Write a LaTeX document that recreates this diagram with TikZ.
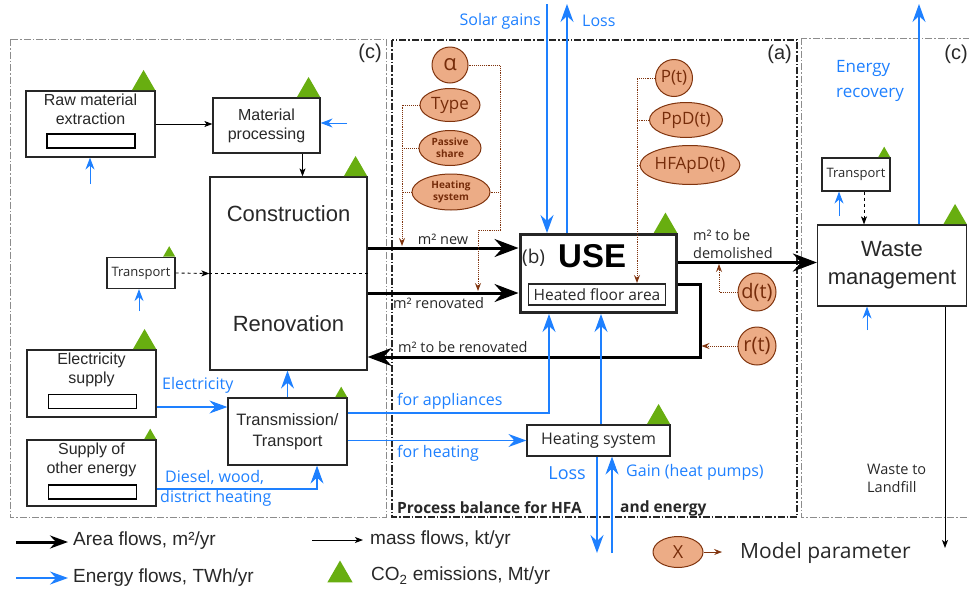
\documentclass[tikz,border=0pt]{standalone}
\usepackage{fontspec}
\setmainfont{Liberation Sans}
\newfontfamily\osans{Open Sans}
\usetikzlibrary{arrows.meta,shapes.geometric,positioning}

\definecolor{eblue}{RGB}{30,128,255}
\definecolor{cogreen}{RGB}{104,174,16}
\definecolor{pfill}{RGB}{236,172,134}
\definecolor{pline}{RGB}{128,52,14}
\definecolor{ptext}{RGB}{118,44,10}
\definecolor{txtgray}{RGB}{40,40,40}

\tikzset{
	box/.style={rectangle, draw=black!85, line width=1.2pt, fill=white, inner sep=2pt, text=txtgray, align=center},
	stockbar/.style={rectangle, draw=black, line width=1.6pt, minimum width=88pt, minimum height=14pt, inner sep=0pt},
	boxtxt/.style={align=center, font=\fontsize{16}{19}\selectfont, text=txtgray, inner sep=0pt},
	bigtxt/.style={font=\fontsize{22}{26}\selectfont, text=txtgray, inner sep=0pt, align=center},
	co2/.style={regular polygon, regular polygon sides=3, fill=cogreen, inner sep=0pt, minimum size=27pt},
	co2small/.style={co2, minimum size=14pt},
	param/.style={ellipse, draw=pline, fill=pfill, text=ptext, line width=1pt, inner sep=0pt, font=\osans\fontsize{17}{17}\selectfont},
	area/.style={line width=3pt, -{Stealth[length=24pt,width=18pt,inset=8pt]}},
	mass/.style={line width=0.9pt, -{Stealth[length=8pt,width=6pt,inset=2pt]}},
	energy/.style={draw=eblue, line width=1.2pt, -{Stealth[length=18pt,width=13pt,inset=6pt]}},
	ein/.style={draw=eblue, line width=1pt, -{Stealth[length=12pt,width=9pt,inset=4pt]}},
	pflow/.style={draw=pline, densely dotted, line width=0.9pt, -{Stealth[length=8pt,width=6pt,inset=3pt]}},
	flowlbl/.style={font=\osans\fontsize{14.5}{18}\selectfont, text=txtgray, inner sep=0pt, align=left},
	elbl/.style={font=\osans\fontsize{16}{24}\selectfont, text=eblue, inner sep=0pt, align=left},
	regionframe/.style={dash pattern=on 7pt off 2pt on 1.5pt off 2pt, line width=0.9pt}
}

\begin{document}
\begin{tikzpicture}[x=1pt, y=-1pt]
	\useasboundingbox (0,0) rectangle (969,592);

	\draw[regionframe, draw=black!45] (10,39) rectangle (386,517);
	\draw[regionframe, draw=black!45] (801,38) rectangle (975,517);
	\draw[regionframe, draw=black!85, line width=1.1pt] (392,40) rectangle (797,517);
	\node[font=\fontsize{20}{20}\selectfont, text=txtgray, anchor=north east, inner sep=0pt](regC1) at (382,44){(c)};
	\node[font=\fontsize{20}{20}\selectfont, text=txtgray, anchor=north east, inner sep=0pt](regA) at (792,45){(a)};
	\node[font=\fontsize{20}{20}\selectfont, text=txtgray, anchor=north east, inner sep=0pt](regC2) at (968,45){(c)};

	\node[box, minimum width=129pt, minimum height=66pt](raw) at (90.5,124){};
	\node[boxtxt, below=3pt of raw.north](rawTxt){Raw material\\extraction};
	\node[stockbar](rawStock) at (91,141){};
	\node[co2, anchor=corner 3](rawCO) at (raw.north east){};

	\node[box, minimum width=107pt, minimum height=55pt, font=\fontsize{16}{19}\selectfont](matproc) at (266.5,125.5){Material\\processing};
	\node[co2, anchor=corner 3](matprocCO) at (matproc.north east){};

	\node[box, minimum width=157pt, minimum height=193pt](constr) at (288.5,273.5){};
	\node[bigtxt](constrTxt) at (288.5,214){Construction};
	\node[bigtxt](renoTxt) at (288.5,324){Renovation};
	\node[co2, anchor=corner 3](constrCO) at (constr.north east){};

	\node[box, minimum width=68pt, minimum height=31pt, font=\osans\fontsize{13}{13}\selectfont](transL) at (141,273){Transport};
	\node[co2small, anchor=corner 3](transLCO) at (transL.north east){};

	\node[box, minimum width=129pt, minimum height=67pt](elec) at (91.5,383.5){};
	\node[boxtxt, below=3pt of elec.north](elecTxt){Electricity\\supply};
	\node[stockbar](elecStock) at (92.5,401.5){};
	\node[co2, anchor=corner 3](elecCO) at (elec.north east){};

	\node[box, minimum width=129pt, minimum height=66pt](other) at (91.5,473){};
	\node[boxtxt, below=3pt of other.north](otherTxt){Supply of\\other energy};
	\node[stockbar](otherStock) at (92.5,492){};
	\node[co2small, anchor=corner 3](otherCO) at (other.north east){};

	\node[box, minimum width=119pt, minimum height=67pt, font=\fontsize{16.5}{21}\selectfont](trans) at (287.5,431.5){Transmission/\\Transport};
	\node[co2small, anchor=corner 3](transCO) at (trans.north east){};

	\node[box, line width=3pt, minimum width=156pt, minimum height=78pt](use) at (598,273.5){};
	\node[font=\osans\fontsize{19}{19}\selectfont, text=txtgray, anchor=west, inner sep=0pt](useB) at (522,258){(b)};
	\node[font=\bfseries\fontsize{33}{33}\selectfont, anchor=west, inner sep=0pt](useTxt) at (558,256){USE};
	\node[box, line width=1.6pt, minimum width=137pt, minimum height=21pt, inner sep=0pt, font=\osans\fontsize{15.5}{15.5}\selectfont](hfa) at (597,294.5){Heated floor area};
	\node[co2, anchor=corner 3](useCO) at (use.north east){};

	\node[box, minimum width=143pt, minimum height=31pt, font=\osans\fontsize{16}{16}\selectfont](heatsys) at (598.5,440.5){Heating system};
	\node[co2, anchor=corner 3](heatsysCO) at (heatsys.north east){};

	\node[box, minimum width=149pt, minimum height=81pt, font=\fontsize{22}{28}\selectfont](waste) at (892,265.5){Waste\\management};
	\node[co2, anchor=corner 3](wasteCO) at (waste.north east){};
	\node[box, minimum width=68pt, minimum height=33pt, font=\osans\fontsize{13}{13}\selectfont](transR) at (856,174.5){Transport};
	\node[co2small, anchor=corner 3](transRCO) at (transR.north east){};

	% parameters
	\node[param, circle, minimum size=36pt, font=\osans\fontsize{22}{22}\selectfont](palpha) at (450,65){α};
	\node[param, minimum width=60pt, minimum height=33pt](ptype) at (450,105){Type};
	\node[param, minimum width=62pt, minimum height=35pt, align=center, font=\osans\bfseries\fontsize{10}{12}\selectfont](ppassive) at (450,148){Passive\\share};
	\node[param, minimum width=78pt, minimum height=36pt, align=center, font=\osans\bfseries\fontsize{10}{12}\selectfont](pheat) at (451,192){Heating\\system};
	\node[param, circle, minimum size=37pt](pP) at (674,78){P(t)};
	\node[param, minimum width=73pt, minimum height=35pt](pPpD) at (686,120){PpD(t)};
	\node[param, minimum width=84pt, minimum height=39pt](pHFApD) at (690,165){HFApD(t)};
	\node[param, circle, minimum size=38pt, font=\osans\fontsize{20}{20}\selectfont](pd) at (757,292){d(t)};
	\node[param, circle, minimum size=38pt, font=\osans\fontsize{20}{20}\selectfont](pr) at (757,346){r(t)};

	% mass flows
	\draw[mass] (raw.east) -- (raw.east -| matproc.west);
	\draw[mass] ([xshift=36pt]matproc.south) -- ([xshift=36pt]matproc.south |- constr.north);
	\draw[mass, dashed] (transL.east) -- (constr.west);
	\draw[dashed, line width=0.8pt] (constr.west) -- (constr.east);
	\draw[mass, dashed] ([xshift=8pt]transR.south) -- ([xshift=8pt]transR.south |- waste.north);
	\coordinate (landfill) at (945,548);
	\draw[mass] (waste.south -| landfill) -- (landfill);
	\node[flowlbl, anchor=north west](landfillLbl) at (867,464){Waste to\\Landfill};

	% area flows
	\coordinate (newOut) at ([yshift=25.5pt]constr.east);
	\coordinate (renoOut) at ([yshift=-19.5pt]constr.east);
	\coordinate (tbrOut) at ([yshift=-11pt]use.east);
	\coordinate (tbrCorner) at (700,357);
	\coordinate (demOut) at ([yshift=11pt]use.east);
	\draw[area] (newOut) -- (newOut -| use.west);
	\draw[area] (renoOut) -- (renoOut -| use.west);
	\draw[area] (tbrOut) -| (tbrCorner) -- (tbrCorner -| constr.east);
	\draw[area] (demOut) -- (demOut -| waste.west);
	\node[flowlbl, anchor=south](newLbl) at (443,245){m² new};
	\node[flowlbl, anchor=north west](renoLbl) at (393,297){m² renovated};
	\node[flowlbl, anchor=south west](tbrLbl) at (398,353){m² to be renovated};
	\node[flowlbl, anchor=south west](demLbl) at (693,259){m² to be\\demolished};

	% energy flows
	\coordinate (rawIn) at (90,184);
	\draw[ein] (rawIn) -- (rawIn |- raw.south);
	\coordinate (matIn) at (347,123);
	\draw[ein] (matIn) -- (matIn -| matproc.east);
	\coordinate (transLIn) at (139,311);
	\draw[ein] (transLIn) -- (transLIn |- transL.south);
	\coordinate (transRIn) at (839,216);
	\draw[ein] (transRIn) -- (transRIn |- transR.south);
	\coordinate (wasteIn) at (867,330);
	\draw[ein] (wasteIn) -- (wasteIn |- waste.south);

	\coordinate (elecOut) at ([yshift=-23.5pt]elec.east);
	\draw[energy] (elecOut) -- (elecOut -| trans.west);
	\node[elbl, anchor=south west](elecLbl) at (162,394){Electricity};
	\coordinate (dieselOut) at ([yshift=-16pt]other.east);
	\draw[energy] (dieselOut) -| ([xshift=29.5pt]trans.south);
	\node[elbl, anchor=west](dieselLbl) at (165,477){Diesel, wood,};
	\node[elbl, anchor=west](districtLbl) at (160,498){district heating};
	\draw[energy] (trans.north) -- (trans.north |- constr.south);

	\coordinate (applOut) at ([yshift=18.5pt]trans.east);
	\draw[energy] (applOut) -| ([xshift=-49pt]use.south);
	\node[elbl, anchor=south west](applLbl) at (397,410){for appliances};
	\coordinate (heatOut) at ([yshift=-9pt]trans.east);
	\draw[energy] (heatOut) -- (heatOut -| heatsys.west);
	\node[elbl, anchor=north west](heatLbl) at (397,445){for heating};

	\draw[energy] ([xshift=2.5pt]heatsys.north) -- ([xshift=2.5pt]heatsys.north |- use.south);
	\coordinate (hsLossEnd) at (597,553);
	\draw[energy] (heatsys.south -| hsLossEnd) -- (hsLossEnd);
	\coordinate (hsGainStart) at (612,553);
	\draw[energy] (hsGainStart) -- (hsGainStart |- heatsys.south);
	\node[elbl, anchor=east, font=\osans\fontsize{18}{18}\selectfont](hsLossLbl) at (586,473){Loss};
	\node[elbl, anchor=west](hsGainLbl) at (626,472){Gain (heat pumps)};

	\coordinate (solarTop) at (547,4);
	\draw[energy] (solarTop) -- (solarTop |- use.north);
	\coordinate (lossTop) at (567,4);
	\draw[energy] (lossTop |- use.north) -- (lossTop);
	\node[elbl, anchor=east](solarLbl) at (541,21){Solar gains};
	\node[elbl, anchor=west](lossLbl) at (582,21){Loss};

	\coordinate (recTop) at (919,4);
	\draw[energy] (waste.north -| recTop) -- (recTop);
	\node[elbl, anchor=north west, font=\osans\fontsize{17}{25}\selectfont](recLbl) at (836,60){Energy\\recovery};

	\node[font=\osans\bfseries\fontsize{15.5}{15.5}\selectfont, text=txtgray, anchor=west, inner sep=0pt](balLbl) at (397,508){Process balance for HFA};
	\node[font=\osans\bfseries\fontsize{15.5}{15.5}\selectfont, text=txtgray, anchor=west, inner sep=0pt](balLbl2) at (620,508){and energy};

	% parameter links
	\coordinate (pNewHit) at (402,246);
	\draw[pflow] (ptype.west) -| (pNewHit);
	\draw[pflow, -] (ppassive.west) -- (ppassive.west -| pNewHit);
	\draw[pflow, -] (pheat.west) -- (pheat.west -| pNewHit);
	\coordinate (pRenoBend) at (500,230);
	\coordinate (pRenoHit) at (478,291);
	\draw[pflow] (palpha.east) -| (pRenoBend) -| (pRenoHit);
	\draw[pflow, -] (pheat.east) -- (pheat.east -| pRenoBend);
	\coordinate (pHfaHit) at (637,283);
	\draw[pflow] (pP.west) -| (pHfaHit);
	\draw[pflow, -] (pPpD.west) -- (pPpD.west -| pHfaHit);
	\draw[pflow, -] (pHFApD.west) -- (pHFApD.west -| pHfaHit);
	\coordinate (pDemHit) at (719,264);
	\draw[pflow] (pd.west) -| (pDemHit);
	\draw[pflow] (pr.west) -- ([xshift=1.5pt]pr.west -| tbrCorner);

	% legend
	\coordinate (legAreaS) at (16,542);
	\coordinate (legAreaE) at (68,542);
	\draw[line width=3pt, -{Stealth[length=18pt,width=13pt,inset=6pt]}] (legAreaS) -- (legAreaE);
	\node[font=\fontsize{19}{19}\selectfont, text=txtgray, anchor=west, inner sep=0pt](legArea) at (73,541){Area flows, m²/yr};
	\coordinate (legEnS) at (16,578);
	\coordinate (legEnE) at (68,578);
	\draw[energy] (legEnS) -- (legEnE);
	\node[font=\fontsize{19}{19}\selectfont, text=txtgray, anchor=west, inner sep=0pt](legEn) at (73,578){Energy flows, TWh/yr};
	\coordinate (legMassS) at (312,540);
	\coordinate (legMassE) at (363,540);
	\draw[mass] (legMassS) -- (legMassE);
	\node[font=\fontsize{19}{19}\selectfont, text=txtgray, anchor=west, inner sep=0pt](legMass) at (370,540){mass flows, kt/yr};
	\node[co2, minimum size=29pt](legCO) at (340,575){};
	\node[font=\fontsize{19}{19}\selectfont, text=txtgray, anchor=west, inner sep=0pt](legCOTxt) at (371,576){CO\textsubscript{2} emissions, Mt/yr};
	\node[param, minimum width=50pt, minimum height=31pt, font=\osans\fontsize{18}{18}\selectfont](pX) at (678,552){X};
	\coordinate (legXEnd) at (722,552);
	\draw[pflow, solid, line width=0.6pt] (pX.east) -- (legXEnd);
	\node[font=\osans\fontsize{21}{21}\selectfont, text=txtgray, anchor=west, inner sep=0pt](legX) at (740,553){Model parameter};
\end{tikzpicture}
\end{document}
